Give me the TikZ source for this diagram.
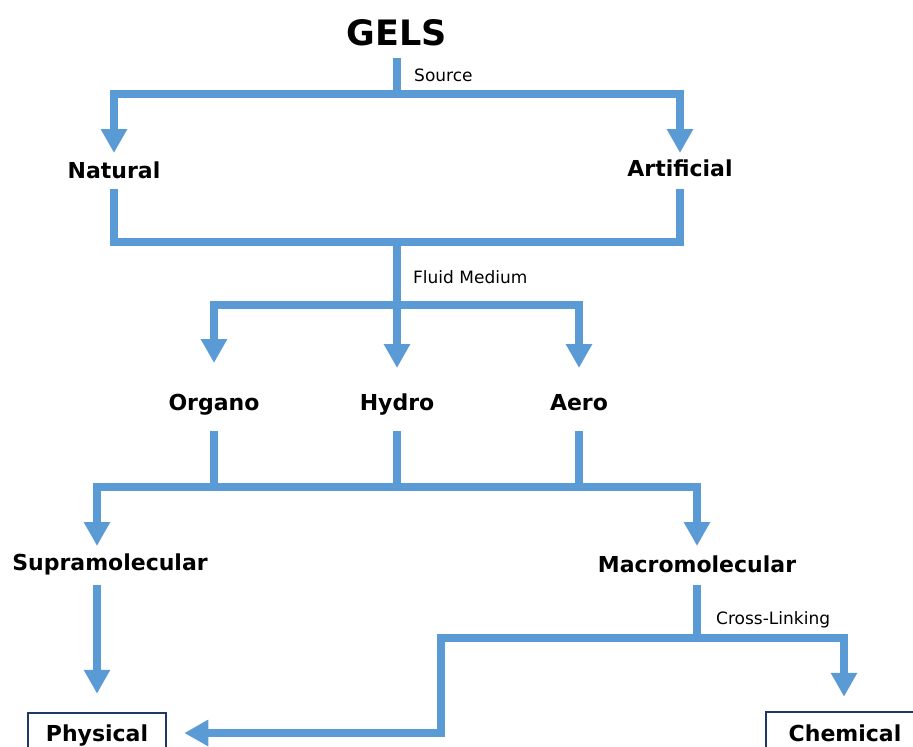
\documentclass[tikz,border=0pt]{standalone}
\usepackage{fontspec}
\setmainfont{DejaVu Sans}
\usetikzlibrary{arrows.meta}
\definecolor{flow}{HTML}{5B9BD5}
\definecolor{boxline}{HTML}{1F3864}
\begin{document}
\begin{tikzpicture}[x=1pt,y=-1pt,
  conn/.style={draw=flow, line width=8pt, line join=miter},
  arr/.style={conn, -{Triangle[width=25pt,length=24pt]}},
  lbl/.style={font=\fontsize{22}{26}\selectfont\bfseries, inner sep=0pt, outer sep=0pt, anchor=base},
  note/.style={font=\fontsize{17}{20}\selectfont, inner sep=0pt, anchor=west},
  endtext/.style={inner sep=0pt, outer sep=1.25pt, minimum height=40pt,
    font=\fontsize{22}{26}\selectfont\bfseries, text height=16pt, text depth=0pt},
  endbox/.style={endtext, draw=boxline, line width=2.5pt},
  boxedge/.style={draw=boxline, line width=2.5pt, line join=miter}
]
\path[use as bounding box] (0,0) rectangle (913,747);
\clip (0,0) rectangle (913,747);

% nodes
\node[lbl, font=\fontsize{35}{40}\selectfont\bfseries, text height=26pt, text depth=13pt] (gels) at (397,45) {GELS};
\node[lbl, text height=25pt, text depth=11pt] (natural) at (114,178) {Natural};
\node[lbl, text height=23pt, text depth=13pt] (artificial) at (680,176) {Artificial};
\node[lbl, text height=47pt, text depth=21pt] (organo) at (214,410) {Organo};
\node[lbl, text height=42pt, text depth=21pt] (hydro) at (397,410) {Hydro};
\node[lbl, text height=42pt, text depth=21pt] (aero) at (579,410) {Aero};
\node[lbl, text height=24pt, text depth=15pt] (supra) at (110,570) {Supramolecular};
\node[lbl, text height=26pt, text depth=13pt] (macro) at (697,572) {Macromolecular};
\node[endbox, minimum width=138pt] (physical) at (97,733) {Physical};
\node[endtext, minimum width=156pt] (chemical) at (845,733) {Chemical};
% the chemical box runs past the right edge of the picture
\draw[boxedge] ([xshift=40pt]chemical.north east) -- (chemical.north west) -- (chemical.south west);

\node[note] (source) at (414,75) {Source};
\node[note] (fluid) at (413,277) {Fluid Medium};
\node[note] (crosslink) at (716,620) {Cross-Linking};

% level 1
\draw[conn] (gels.south) -- ++(0,36) coordinate (j1);
\draw[arr] (j1) -| (natural.north);
\draw[arr] (j1) -| (artificial.north);

% level 2
\path (natural.south) ++(0,53) coordinate (nbar);
\draw[conn] (natural.south) -- (nbar) -| (artificial.south);
\coordinate (j2) at (gels.south |- nbar);
\path (j2) ++(0,63) coordinate (j3);
\draw[arr] (j3) -| (organo.north);
\draw[arr] (j2) -- (hydro.north);
\draw[arr] (j3) -| (aero.north);

% level 3
\path (hydro.south) ++(0,56) coordinate (j4);
\draw[conn] (organo.south) -- (organo.south |- j4);
\draw[conn] (hydro.south) -- (j4);
\draw[conn] (aero.south) -- (aero.south |- j4);
\draw[arr] (j4) -| (supra.north -| physical.north);
\draw[arr] (j4) -| (macro.north);

% level 4
\draw[arr, shorten >=18pt] (supra.south -| physical.north) -- (physical.north);
\path (macro.south) ++(0,52.5) coordinate (j5);
\draw[conn] (macro.south) -- (j5);
\draw[arr, shorten >=15pt] (j5) -| ([xshift=-1pt]chemical.north);
\coordinate (jog) at (441,637.5);
\draw[arr, shorten >=17pt] (j5) -- (jog) |- (physical.east);
\end{tikzpicture}
\end{document}
